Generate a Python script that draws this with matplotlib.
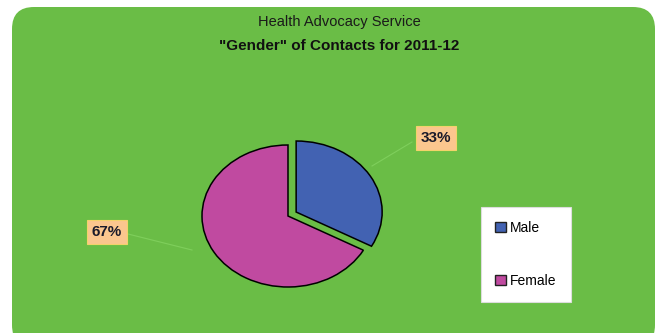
import matplotlib.pyplot as plt
from matplotlib.patches import FancyBboxPatch, Patch

plt.rcParams['font.family'] = ['Liberation Sans', 'DejaVu Sans']

# gender split of contacts, 2011-12
labels = ['Male', 'Female']
shares = [33, 67]
colors = ['#4262b2', '#c04aa0']
explode = [0.11, 0]

title1 = 'Health Advocacy Service'
title2 = '"Gender" of Contacts for 2011-12'

W, H = 660, 333
fig = plt.figure(figsize=(W / 100, H / 100), dpi=100, facecolor='white')

# green rounded panel behind everything
bg = fig.add_axes([0, 0, 1, 1])
bg.set_xlim(0, W)
bg.set_ylim(H, 0)
bg.axis('off')
panel = FancyBboxPatch((12, 7), 643, 340, boxstyle='round,pad=0,rounding_size=22',
                       facecolor='#6abd46', edgecolor='none')
bg.add_patch(panel)
bg.text(339, 22, title1, ha='center', va='center', fontsize=10.5, color='#1a1a1a')
bg.text(339, 46, title2, ha='center', va='center', fontsize=11, fontweight='bold',
        color='#111111')

# faint leader lines from value boxes to slices
bg.plot([412, 372], [142, 166], color='#7fcf5c', lw=0.8)
bg.plot([128, 192], [234, 250], color='#7fcf5c', lw=0.8)

# pie, stretched a little wider than tall
cx, cy, rx, ry = 288, 216, 86, 71
lim = 1.35
pax = fig.add_axes([(cx - lim * rx) / W, 1 - (cy + lim * ry) / H,
                    2 * lim * rx / W, 2 * lim * ry / H])
pax.pie(shares, colors=colors, explode=explode, startangle=90, counterclock=False,
        wedgeprops=dict(edgecolor='black', linewidth=1.1))
pax.set_aspect('auto')
pax.set_xlim(-lim, lim)
pax.set_ylim(-lim, lim)
pax.axis('off')

# value boxes
box = dict(boxstyle='square,pad=0.3', facecolor='#fbc68e', edgecolor='#f3d36a', lw=0.8)
bg.text(436, 138, f'{shares[0]}%', ha='center', va='center', fontsize=11,
        fontweight='bold', color='#1a1a2a', bbox=box)
bg.text(107, 232, f'{shares[1]}%', ha='center', va='center', fontsize=11,
        fontweight='bold', color='#1a1a2a', bbox=box)

# legend
handles = [Patch(facecolor=c, edgecolor='#222222', lw=1) for c in colors]
leg = fig.legend(handles, labels, loc='upper left',
                 bbox_to_anchor=(481 / W, 1 - 207 / H), fontsize=10,
                 frameon=True, fancybox=False, framealpha=1,
                 handlelength=0.8, handleheight=0.8,
                 handletextpad=0.3, labelspacing=2.8, borderpad=1.0,
                 borderaxespad=0)
leg.get_frame().set_facecolor('white')
leg.get_frame().set_edgecolor('#dddddd')
leg.get_frame().set_linewidth(0.8)

fig.savefig('out.png', dpi=100, facecolor='white')
